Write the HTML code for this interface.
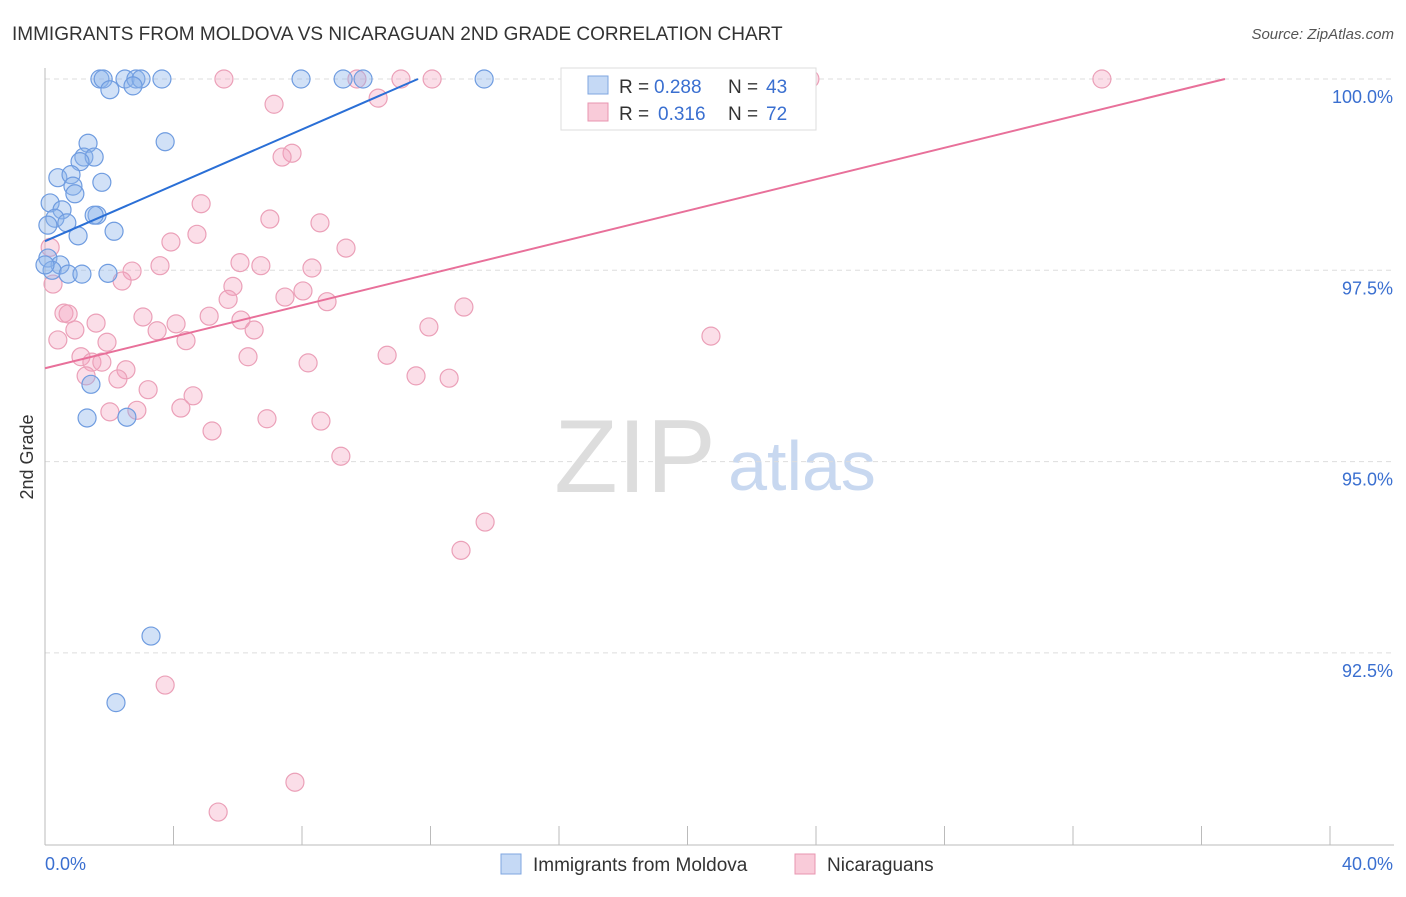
<!DOCTYPE html>
<html><head><meta charset="utf-8">
<style>
body{margin:0;background:#fff;font-family:"Liberation Sans",sans-serif;}
svg text{font-family:"Liberation Sans",sans-serif;}
</style></head>
<body>
<svg id="chart" width="1406" height="892" xmlns="http://www.w3.org/2000/svg">
<text x="12" y="40" font-size="19" fill="#333">IMMIGRANTS FROM MOLDOVA VS NICARAGUAN 2ND GRADE CORRELATION CHART</text>
<text x="1394" y="39" font-size="15" fill="#555" text-anchor="end" font-style="italic">Source: ZipAtlas.com</text>
<text transform="translate(33,457) rotate(-90)" font-size="18" fill="#333" text-anchor="middle">2nd Grade</text>
<g>
<text x="635" y="492" font-size="104" fill="#ddd" text-anchor="middle" font-family="Liberation Serif, serif">ZIP</text>
<text x="802" y="490" font-size="70" fill="#c8d8f0" text-anchor="middle">atlas</text>
</g>
<g id="grid"></g>
<g id="axes"></g>
<g id="marks"></g>
<g>
<rect x="561" y="68" width="255" height="62" fill="#fff" stroke="#ddd"/>
<rect x="588" y="76" width="20" height="18" fill="#c5d9f5" stroke="#7fa6e0"/>
<text x="619" y="93" font-size="19" fill="#333">R =</text>
<text x="654" y="93" font-size="19" fill="#3a6fd0">0.288</text>
<text x="728" y="93" font-size="19" fill="#333">N =</text>
<text x="766" y="93" font-size="19" fill="#3a6fd0">43</text>
<rect x="588" y="103" width="20" height="18" fill="#f9cbd9" stroke="#e896b0"/>
<text x="619" y="120" font-size="19" fill="#333">R =</text>
<text x="658" y="120" font-size="19" fill="#3a6fd0">0.316</text>
<text x="728" y="120" font-size="19" fill="#333">N =</text>
<text x="766" y="120" font-size="19" fill="#3a6fd0">72</text>
</g>
<g>
<rect x="501" y="854" width="20" height="20" fill="#c5d9f5" stroke="#7fa6e0"/>
<text x="533" y="871" font-size="19" fill="#333">Immigrants from Moldova</text>
<rect x="795" y="854" width="20" height="20" fill="#f9cbd9" stroke="#e896b0"/>
<text x="827" y="871" font-size="19" fill="#333">Nicaraguans</text>
</g>
</svg>
<script>
const blueX=[1.71,1.81,2.49,2.83,2.99,3.64,7.97,9.28,9.90,13.67,2.02,2.74,3.74,1.34,1.21,1.53,1.09,1.77,0.40,0.81,0.87,0.93,0.16,0.53,0.31,0.68,1.62,1.53,2.15,1.03,0.09,0.47,0.22,0.72,1.15,1.96,1.43,1.31,2.55,3.30,2.21,0.09,0.0];
const blueY=[100,100,100,100,100,100,100,100,100,100,99.86,99.91,99.18,99.16,98.98,98.98,98.92,98.65,98.71,98.75,98.60,98.50,98.38,98.29,98.18,98.12,98.22,98.22,98.01,97.95,97.66,97.57,97.50,97.45,97.45,97.46,96.01,95.57,95.58,92.72,91.85,98.09,97.57];
const pinkX=[5.57,9.71,11.08,12.05,16.87,21.01,23.81,32.90,7.13,10.37,7.69,7.38,4.86,7.00,8.56,4.73,3.92,9.37,0.16,3.58,2.71,6.07,6.72,8.31,2.40,0.25,5.85,5.70,8.03,7.47,8.78,13.04,0.59,0.72,3.05,1.59,4.08,5.11,6.10,0.93,3.49,6.51,11.95,20.73,0.40,1.93,4.39,6.32,10.65,1.12,1.46,1.77,2.52,8.19,1.28,2.27,11.55,12.58,3.21,4.61,2.86,2.02,4.23,6.91,8.59,5.20,9.21,13.70,12.95,3.74,7.78,5.39];
const pinkY=[100,100,100,100,100,100,100,100,99.67,99.75,99.03,98.98,98.37,98.17,98.12,97.97,97.87,97.79,97.80,97.56,97.49,97.60,97.56,97.53,97.36,97.32,97.29,97.12,97.23,97.15,97.09,97.02,96.94,96.93,96.89,96.81,96.80,96.90,96.85,96.72,96.71,96.72,96.76,96.64,96.59,96.56,96.58,96.37,96.39,96.37,96.30,96.30,96.20,96.29,96.12,96.08,96.12,96.09,95.94,95.86,95.67,95.65,95.70,95.56,95.53,95.40,95.07,94.21,93.84,92.08,90.81,90.42];
const blueTrend=[[0,97.88],[11.61,100]];
const pinkTrend=[[0,96.22],[36.73,100]];
const yTicks=[100,97.5,95,92.5];
const yTickLabels=["100.0%","97.5%","95.0%","92.5%"];
const xTicks=[0,4,8,12,16,20,24,28,32,36,40];
const NS="http://www.w3.org/2000/svg";
function sx(v){return 45+v/40*1285;}
function sy(v){return 79+(100-v)/2.5*191.3;}
function mk(t,a,p){const e=document.createElementNS(NS,t);for(const k in a)e.setAttribute(k,a[k]);p.appendChild(e);return e;}
const grid=document.getElementById('grid'),axes=document.getElementById('axes'),marks=document.getElementById('marks');
yTicks.forEach((t,i)=>{
 const l=mk('line',{x1:45,x2:1394,y1:sy(t),y2:sy(t),stroke:'#ddd','stroke-dasharray':'5,4'},grid);
 
 
 const tx=mk('text',{x:1393,y:sy(t)+24,'font-size':18,fill:'#3a6fd0','text-anchor':'end'},axes);
 tx.textContent=yTickLabels[i];
 
 
});
const ya=mk('line',{x1:45,x2:45,y1:68,y2:845,stroke:'#bbb'},axes);


const xa=mk('line',{x1:45,x2:1394,y1:845,y2:845,stroke:'#bbb'},axes);


xTicks.forEach(t=>{
 const l=mk('line',{x1:sx(t),x2:sx(t),y1:826,y2:845,stroke:'#bbb'},axes);
 
 
});
const x0=mk('text',{x:45,y:870,'font-size':18,fill:'#3a6fd0'},axes);x0.textContent='0.0%';


const x1=mk('text',{x:1393,y:870,'font-size':18,fill:'#3a6fd0','text-anchor':'end'},axes);x1.textContent='40.0%';


pinkX.forEach((x,i)=>{
 const c=mk('circle',{cx:sx(x),cy:sy(pinkY[i]),r:9,fill:'rgba(244,160,190,0.35)',stroke:'#eba0b8','stroke-width':1.2},marks);
 
 
});
blueX.forEach((x,i)=>{
 const c=mk('circle',{cx:sx(x),cy:sy(blueY[i]),r:9,fill:'rgba(140,180,235,0.4)',stroke:'#6f9ce0','stroke-width':1.2},marks);
 
 
});
const bl=mk('line',{x1:sx(blueTrend[0][0]),y1:sy(blueTrend[0][1]),x2:sx(blueTrend[1][0]),y2:sy(blueTrend[1][1]),stroke:'#2a6fd6','stroke-width':2},marks);


const pl=mk('line',{x1:sx(pinkTrend[0][0]),y1:sy(pinkTrend[0][1]),x2:sx(pinkTrend[1][0]),y2:sy(pinkTrend[1][1]),stroke:'#e8709a','stroke-width':2},marks);


</script>
</body></html>
